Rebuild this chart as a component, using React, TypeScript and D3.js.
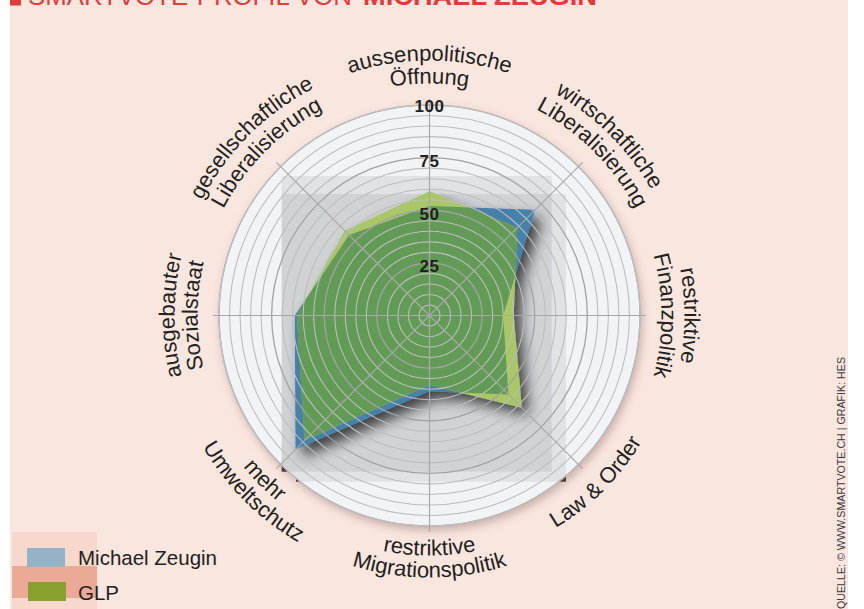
import React from 'react';
import * as d3 from 'd3';

// smartvote spider: 8 axes, clockwise from the top
const categories = [
  'aussenpolitische Öffnung',
  'wirtschaftliche Liberalisierung',
  'restriktive Finanzpolitik',
  'Law & Order',
  'restriktive Migrationspolitik',
  'mehr Umweltschutz',
  'ausgebauter Sozialstaat',
  'gesellschaftliche Liberalisierung',
];
const labelLines = [
  ['aussenpolitische', 'Öffnung'],
  ['wirtschaftliche', 'Liberalisierung'],
  ['restriktive', 'Finanzpolitik'],
  ['Law & Order'],
  ['restriktive', 'Migrationspolitik'],
  ['mehr', 'Umweltschutz'],
  ['ausgebauter', 'Sozialstaat'],
  ['gesellschaftliche', 'Liberalisierung'],
];
const zeuginValues = [52, 71, 35, 53, 36, 90, 64, 54];
const glpValues = [59, 59, 40, 62, 33, 84, 63, 57];
const tickValues = [25, 50, 75, 100];
const ringValues = d3.range(5, 105, 5);
const seriesNames = ['Michael Zeugin', 'GLP'];

const W = 864;
const H = 609;
const cx = 429.5;
const cy = 315.5;
const R = 210.5;

const font = '"Liberation Sans", Arial, sans-serif';

const rScale = d3.scaleLinear().domain([0, 100]).range([0, R]);
const angle = d3.scaleLinear().domain([0, categories.length]).range([0, 2 * Math.PI]);

const radar = d3
  .lineRadial<number>()
  .angle((d, i) => angle(i))
  .radius((d) => rScale(d))
  .curve(d3.curveLinearClosed);

function pt(deg: number, r: number) {
  const a = (deg * Math.PI) / 180;
  return [r * Math.sin(a), -r * Math.cos(a)];
}

function arcPath(deg: number, r: number, bottom: boolean) {
  const [x0, y0] = pt(deg - 85, r);
  const [x1, y1] = pt(deg + 85, r);
  if (!bottom) return `M${x0},${y0}A${r},${r} 0 0 1 ${x1},${y1}`;
  return `M${x1},${y1}A${r},${r} 0 0 0 ${x0},${y0}`;
}

// baseline radius of first / second line
const topRadii = [255, 232];
const bottomRadii = [240, 262];

export default function App() {
  const zPath = radar(zeuginValues) || '';
  const gPath = radar(glpValues) || '';

  return (
    <svg
      width={W}
      height={H}
      style={{ position: 'absolute', left: 0, top: 0, display: 'block' }}
      fontFamily={font}
    >
      <defs>
        <filter id="polyShadow" x="-20%" y="-20%" width="150%" height="150%">
          <feDropShadow dx="7" dy="8" stdDeviation="7" floodColor="#000" floodOpacity="0.7" />
        </filter>
        <filter id="discShadow" x="-10%" y="-10%" width="125%" height="125%">
          <feDropShadow dx="2" dy="4" stdDeviation="4" floodColor="#6b4a40" floodOpacity="0.35" />
        </filter>
        <clipPath id="discClip">
          <circle cx={0} cy={0} r={R} />
        </clipPath>
        <clipPath id="zeuginClip">
          <path d={zPath} />
        </clipPath>
      </defs>

      <rect x={10} y={0} width={838} height={H} fill="#f9e6df" />

      {/* title, cut at the top */}
      <rect x={10} y={-10} width={11} height={15.5} fill="#e33b3b" />
      <text x={28} y={5} fontSize={26} fill="#e33b3b" textLength={324} lengthAdjust="spacingAndGlyphs">
        SMARTVOTE-PROFIL VON
      </text>
      <text x={363} y={5} fontSize={26} fontWeight="bold" fill="#e33b3b" textLength={234} lengthAdjust="spacingAndGlyphs">
        MICHAEL ZEUGIN
      </text>

      <g transform={`translate(${cx},${cy})`}>
        {/* dark corners of the panel peeking out under the disc */}
        <rect x={281.7 - cx} y={176 - cy} width={270} height={295.7} fill="#4a3028" />
        <rect x={296 - cx} y={194 - cy} width={270} height={287.7} fill="#4a3028" />

        <circle r={R} fill="#f2f3f5" stroke="#a3a3a3" strokeWidth={1.2} filter="url(#discShadow)" />

        <g clipPath="url(#discClip)">
          <rect x={281.7 - cx} y={176 - cy} width={270} height={295.7} fill="#50555f" fillOpacity={0.105} />
          <rect x={281.7 - cx} y={194 - cy} width={284.3} height={287.7} fill="#50555f" fillOpacity={0.105} />
        </g>

        <g filter="url(#polyShadow)">
          <path d={zPath} fill="#4581ab" />
          <path d={gPath} fill="#a9c766" />
          <path d={gPath} fill="#629b57" clipPath="url(#zeuginClip)" />
        </g>

        {ringValues.map((v) => (
          <circle
            key={v}
            r={rScale(v)}
            fill="none"
            stroke={v % 25 === 0 && v < 100 ? '#a2a2a2' : '#bdbdbd'}
            strokeWidth={v % 25 === 0 ? 1.3 : 1.1}
          />
        ))}

        {categories.map((c, i) => {
          const [x, y] = pt((angle(i) * 180) / Math.PI, R + 6);
          return <line key={c} x1={0} y1={0} x2={x} y2={y} stroke="#a8a8a8" strokeWidth={1.2} />;
        })}

        {tickValues.map((v) => (
          <text
            key={v}
            x={0}
            y={-rScale(v) + (v === 100 ? 1.5 : 4)}
            dominantBaseline="central"
            textAnchor="middle"
            fontSize={17}
            fontWeight="bold"
            letterSpacing={0.6}
            fill="#231f20"
          >
            {v}
          </text>
        ))}

        {labelLines.map((lines, i) => {
          const deg = (angle(i) * 180) / Math.PI;
          const bottom = deg > 90 && deg < 270;
          return lines.map((line, j) => {
            const r = lines.length === 1 ? 247 : bottom ? bottomRadii[j] : topRadii[j];
            const id = `lab-${i}-${j}`;
            return (
              <g key={id}>
                <path id={id} d={arcPath(deg, r, bottom)} fill="none" />
                <text fontSize={22} fill="#231f20">
                  <textPath href={`#${id}`} startOffset="50%" textAnchor="middle">
                    {line}
                  </textPath>
                </text>
              </g>
            );
          });
        })}
      </g>

      {/* legend */}
      <rect x={12} y={532} width={85} height={77} fill="#f6d8cd" />
      <rect x={12} y={566} width={85} height={32} fill="#eba998" />
      <rect x={27} y={548} width={38} height={19} fill="#94b3c6" />
      <rect x={28} y={582} width={38} height={19} fill="#88a12c" />
      {seriesNames.map((s, i) => (
        <text key={s} x={78} y={565 + i * 35} fontSize={20.5} fill="#231f20">
          {s}
        </text>
      ))}

      <text
        transform="translate(845,357) rotate(-90)"
        textAnchor="end"
        fontSize={10.5}
        fill="#3a3a3a"
        textLength={252}
        lengthAdjust="spacingAndGlyphs"
      >
        QUELLE: © WWW.SMARTVOTE.CH | GRAFIK: HES
      </text>
    </svg>
  );
}
